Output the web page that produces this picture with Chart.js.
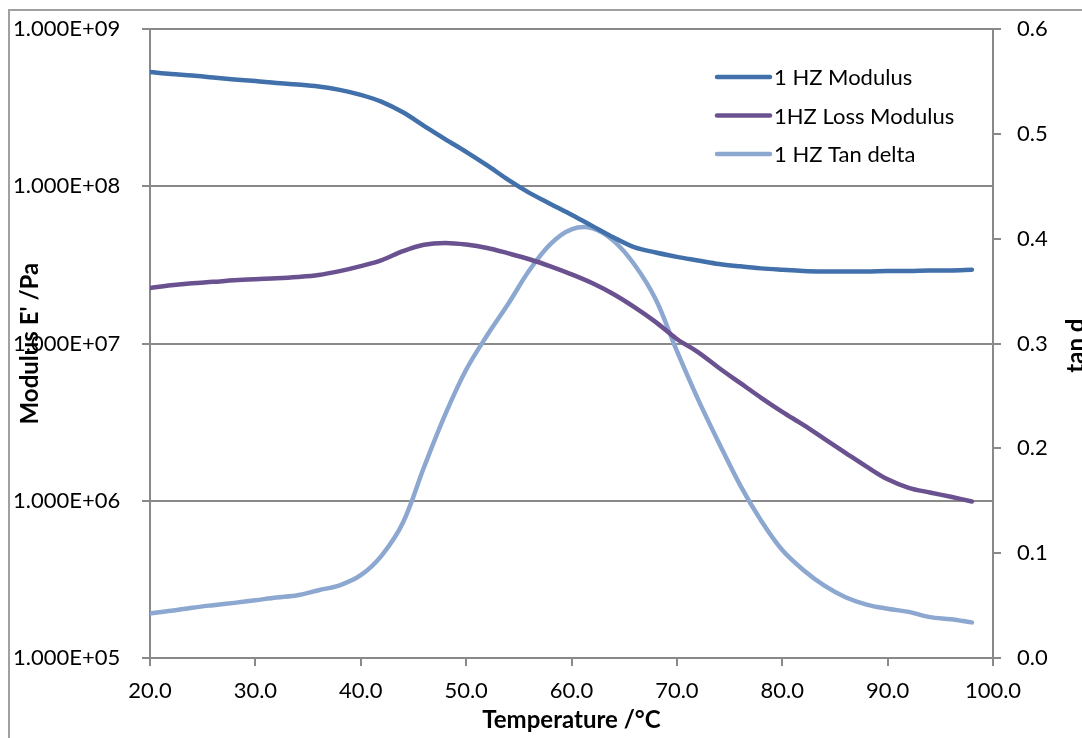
<!DOCTYPE html>
<html>
<head>
<meta charset="utf-8">
<script src="https://cdn.jsdelivr.net/npm/chart.js@4.4.1/dist/chart.umd.min.js"></script>
<style>
  html, body { margin: 0; padding: 0; background: #ffffff; }
  #wrap { width: 1082px; height: 738px; position: relative; }
</style>
</head>
<body>
<div id="wrap"><canvas id="c" width="1082" height="738"></canvas></div>
<script>
// ---- data ----
const temperatures = [20,22,24,26,28,30,32,34,36,38,40,42,44,46,48,50,52,54,56,58,60,62,64,66,68,70,72,74,76,78,80,82,84,86,88,90,92,94,96,98];
const storageModulus = [5.34e8,5.19e8,5.08e8,4.93e8,4.79e8,4.68e8,4.55e8,4.45e8,4.32e8,4.11e8,3.82e8,3.45e8,2.96e8,2.43e8,2.0e8,1.66e8,1.36e8,1.10e8,9.1e7,7.74e7,6.6e7,5.59e7,4.73e7,4.09e7,3.80e7,3.56e7,3.38e7,3.21e7,3.10e7,3.01e7,2.95e7,2.90e7,2.88e7,2.88e7,2.88e7,2.90e7,2.90e7,2.92e7,2.92e7,2.95e7];
const lossModulus = [2.26e7,2.35e7,2.42e7,2.47e7,2.53e7,2.57e7,2.60e7,2.65e7,2.73e7,2.89e7,3.11e7,3.40e7,3.87e7,4.25e7,4.37e7,4.27e7,4.06e7,3.75e7,3.44e7,3.10e7,2.76e7,2.42e7,2.06e7,1.70e7,1.37e7,1.07e7,8.83e6,7.0e6,5.62e6,4.52e6,3.68e6,3.04e6,2.48e6,2.02e6,1.65e6,1.37e6,1.21e6,1.13e6,1.06e6,9.9e5];
const tanDelta = [0.0425,0.045,0.048,0.0504,0.0526,0.0551,0.0577,0.0599,0.0647,0.0694,0.079,0.098,0.129,0.182,0.232,0.275,0.308,0.338,0.370,0.395,0.409,0.410,0.398,0.375,0.342,0.293,0.247,0.205,0.165,0.131,0.103,0.084,0.069,0.058,0.051,0.047,0.044,0.039,0.037,0.034];
const seriesNames = ['1 HZ Modulus', '1HZ Loss Modulus', '1 HZ Tan delta'];
const leftTickValues = [1e5, 1e6, 1e7, 1e8, 1e9];
const xTickValues = [20, 30, 40, 50, 60, 70, 80, 90, 100];
const rightTickValues = [0, 0.1, 0.2, 0.3, 0.4, 0.5, 0.6];
const xTitle = 'Temperature /°C';
const leftTitle = "Modulus E' /Pa";
const rightTitle = 'tan d';

// ---- styles ----
const FONT = 'Lato, "Open Sans", sans-serif';
const colors = ['#4270AA', '#6A5190', '#8DA8D0'];
const axisGray = '#898989';

function toPoints(vals) { return temperatures.map((t, i) => ({x: t, y: vals[i]})); }
function sci(v) {
  const e = Math.round(Math.log10(v));
  const m = v / Math.pow(10, e);
  const es = (e < 0 ? '-' : '+') + String(Math.abs(e)).padStart(2, '0');
  return m.toFixed(3) + 'E' + es;
}

const frame = {
  id: 'frame',
  beforeDraw(chart) {
    const ctx = chart.ctx;
    ctx.save();
    ctx.fillStyle = '#ffffff';
    ctx.fillRect(0, 0, chart.width, chart.height);
    ctx.strokeStyle = '#a0a0a0';
    ctx.lineWidth = 2;
    ctx.beginPath();
    ctx.moveTo(9, chart.height + 5);
    ctx.lineTo(9, 10);
    ctx.lineTo(chart.width + 5, 10);
    ctx.stroke();
    ctx.restore();
  },
  afterDraw(chart) {
    const ctx = chart.ctx;
    ctx.save();
    // legend
    const x0 = 717, x1 = 770, y0 = 77, dy = 38.5;
    chart.data.datasets.forEach((ds, i) => {
      const y = y0 + i * dy;
      ctx.strokeStyle = ds.borderColor;
      ctx.lineWidth = 4.5;
      ctx.lineCap = 'round';
      ctx.beginPath();
      ctx.moveTo(x0, y);
      ctx.lineTo(x1, y);
      ctx.stroke();
      ctx.fillStyle = '#000000';
      ctx.font = '22px ' + FONT;
      ctx.textAlign = 'left';
      ctx.textBaseline = 'middle';
      ctx.fillText(ds.label, 774, y + 1);
    });
    // right axis title (rotated, reading upward)
    const a = chart.chartArea;
    ctx.translate(1076, (a.top + a.bottom) / 2 + 2);
    ctx.rotate(-Math.PI / 2);
    ctx.font = 'bold 24px ' + FONT;
    ctx.textAlign = 'center';
    ctx.textBaseline = 'middle';
    ctx.fillStyle = '#000000';
    ctx.fillText(rightTitle, 0, 0);
    ctx.restore();
  }
};

new Chart(document.getElementById('c'), {
  type: 'line',
  data: {
    datasets: [
      { label: seriesNames[0], data: toPoints(storageModulus), yAxisID: 'y', borderColor: colors[0] },
      { label: seriesNames[1], data: toPoints(lossModulus), yAxisID: 'y', borderColor: colors[1] },
      { label: seriesNames[2], data: toPoints(tanDelta), yAxisID: 'y1', borderColor: colors[2] }
    ]
  },
  options: {
    responsive: false,
    animation: false,
    layout: { padding: { left: 13, top: 27, right: 0, bottom: 0 } },
    elements: {
      point: { radius: 0 },
      line: { borderWidth: 4.5, tension: 0.35, borderCapStyle: 'round', borderJoinStyle: 'round', fill: false }
    },
    plugins: { legend: { display: false }, tooltip: { enabled: false } },
    scales: {
      x: {
        type: 'linear', min: 20, max: 100,
        afterBuildTicks(s) { s.ticks = xTickValues.map(v => ({value: v})); },
        afterFit(s) { s.height = 80; },
        grid: { drawOnChartArea: false, drawTicks: true, tickLength: 8, color: axisGray, lineWidth: 2 },
        border: { display: true, color: axisGray, width: 2 },
        ticks: { color: '#000', font: { family: FONT, size: 22 }, padding: 12, maxRotation: 0, callback: v => v.toFixed(1) },
        title: { display: true, text: xTitle, color: '#000', font: { family: FONT, size: 24, weight: 'bold' }, padding: { top: 0, bottom: 3 } }
      },
      y: {
        type: 'logarithmic', position: 'left', min: 1e5, max: 1e9,
        afterBuildTicks(s) { s.ticks = leftTickValues.map(v => ({value: v, major: true})); },
        afterFit(s) { s.width = 137; },
        grid: { drawOnChartArea: true, drawTicks: true, tickLength: 8, color: axisGray, lineWidth: 2 },
        border: { display: true, color: axisGray, width: 2 },
        ticks: { color: '#000', font: { family: FONT, size: 22 }, crossAlign: 'far', padding: 4, callback: v => sci(v) },
        title: { display: true, text: leftTitle, color: '#000', font: { family: FONT, size: 24, weight: 'bold' }, padding: { top: 3, bottom: 0 } }
      },
      y1: {
        type: 'linear', position: 'right', min: 0, max: 0.6,
        afterBuildTicks(s) { s.ticks = rightTickValues.map(v => ({value: v})); },
        afterFit(s) { s.width = 89; },
        grid: { drawOnChartArea: false, drawTicks: true, tickLength: 8, color: axisGray, lineWidth: 2 },
        border: { display: true, color: axisGray, width: 2 },
        ticks: { color: '#000', font: { family: FONT, size: 22 }, padding: 16, callback: v => v.toFixed(1) }
      }
    }
  },
  plugins: [frame]
});
</script>
</body>
</html>
